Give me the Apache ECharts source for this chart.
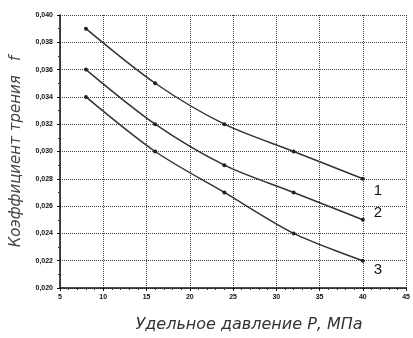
<!DOCTYPE html>
<html><head><meta charset="utf-8">
<script src="https://cdn.jsdelivr.net/npm/echarts@6/dist/echarts.min.js"></script>
<style>html,body{margin:0;padding:0;background:#fff}#c{width:413px;height:338px}</style>
</head><body><div id="c"></div>
<script>
const pressure = [8, 16, 24, 32, 40];
const curve1 = [0.039, 0.035, 0.032, 0.030, 0.028];
const curve2 = [0.036, 0.032, 0.029, 0.027, 0.025];
const curve3 = [0.034, 0.030, 0.027, 0.024, 0.022];
const curveNames = ['1', '2', '3'];
const xTitle = 'Удельное давление Р, МПа';
const yTitle = 'Коэффициент трения   f';

const labelOffsets = [[4, 12], [4, -7], [4, 9]];
function mk(vals, idx) {
  return {
    type: 'line', name: curveNames[idx], smooth: 0.3,
    symbol: 'circle', symbolSize: 4,
    lineStyle: { color: '#333', width: 1.5 },
    itemStyle: { color: '#222' },
    data: vals.map((v, i) => {
      const d = { value: [pressure[i], v] };
      if (i === vals.length - 1) {
        d.label = { show: true, position: 'right', formatter: curveNames[idx],
          offset: labelOffsets[idx], fontSize: 15, color: '#111',
          fontFamily: 'Liberation Sans' };
      }
      return d;
    })
  };
}
const chart = echarts.init(document.getElementById('c'));
chart.setOption({
  animation: false,
  grid: { left: 60, right: 3, top: 15, bottom: 42 },
  xAxis: {
    type: 'value', min: 5, max: 45, interval: 5,
    name: xTitle, nameLocation: 'middle', nameGap: 29,
    nameTextStyle: { fontSize: 16, fontStyle: 'italic', color: '#333', fontFamily: 'DejaVu Sans',
      padding: [0, 0, 0, 32] },
    axisLine: { lineStyle: { color: '#111', width: 1.5 } },
    axisTick: { show: true, length: 3, lineStyle: { color: '#111' } },
    minorTick: { show: true, splitNumber: 5, length: 2, lineStyle: { color: '#333' } },
    axisLabel: { fontSize: 7, fontWeight: 'bold', color: '#111', margin: 6, fontFamily: 'Liberation Sans' },
    splitLine: { show: true, lineStyle: { type: 'dotted', color: '#444', width: 1 } }
  },
  yAxis: {
    type: 'value', min: 0.020, max: 0.040, interval: 0.002,
    name: yTitle, nameLocation: 'middle', nameGap: 36, nameRotate: 90,
    nameTextStyle: { fontSize: 15, fontStyle: 'italic', color: '#444', fontFamily: 'DejaVu Sans' },
    axisLine: { show: true, lineStyle: { color: '#111', width: 1.5 } },
    axisTick: { show: true, length: 3, lineStyle: { color: '#111' } },
    minorTick: { show: true, splitNumber: 2, length: 2, lineStyle: { color: '#333' } },
    axisLabel: { fontSize: 7, fontWeight: 'bold', color: '#111', margin: 7, fontFamily: 'Liberation Sans',
      formatter: v => v.toFixed(3).replace('.', ',') },
    splitLine: { show: true, lineStyle: { type: 'dotted', color: '#444', width: 1 } }
  },
  series: [mk(curve1, 0), mk(curve2, 1), mk(curve3, 2)]
});
</script></body></html>
